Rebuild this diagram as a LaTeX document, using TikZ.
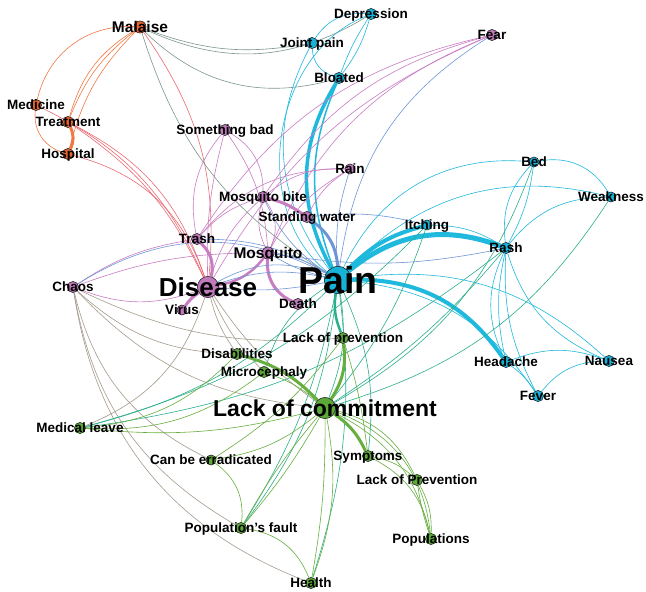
\documentclass[tikz,border=0pt]{standalone}
\usepackage{fontspec}
\setmainfont{Liberation Sans}
\definecolor{nOrg}{HTML}{E8642F}
\definecolor{nCyn}{HTML}{17B2D8}
\definecolor{nPur}{HTML}{C07ABC}
\definecolor{nGrn}{HTML}{5CA838}
\definecolor{cOrg}{HTML}{F07844}
\definecolor{cCyn}{HTML}{1EB9DC}
\definecolor{cPur}{HTML}{C87DC3}
\definecolor{cGrn}{HTML}{66AF3E}
\definecolor{cTeal}{HTML}{2AAF8C}
\definecolor{cBlu}{HTML}{6E96D7}
\definecolor{cSal}{HTML}{EB6973}
\definecolor{cGry}{HTML}{7D968C}
\definecolor{cTan}{HTML}{A59B8C}
\tikzset{
  vtx/.style={circle, draw=black!85, line width=0.45pt, inner sep=0pt, minimum size=#1},
  lab/.style={inner sep=0pt, anchor=base, yshift=-0.358*#1, font=\bfseries\fontsize{#1}{#1}\selectfont},
  lbl/.style={lab=13.5},
  lblm/.style={lab=15.5},
  ed/.style={line width=0.6pt},
  org/.style={ed, draw=cOrg},
  cyn/.style={ed, draw=cCyn},
  pur/.style={ed, draw=cPur},
  grn/.style={ed, draw=cGrn},
  tea/.style={ed, draw=cTeal},
  blu/.style={ed, draw=cBlu},
  sal/.style={ed, draw=cSal},
  gry/.style={ed, draw=cGry},
  tan/.style={ed, draw=cTan},
}
\begin{document}
\begin{tikzpicture}[x=1pt,y=1pt]
\useasboundingbox[fill=white] (0,0) rectangle (646,-592);
% vertices
\node[vtx=12, fill=nOrg] (malaise) at (140,-27) {};
\node[vtx=11, fill=nOrg] (medicine) at (36,-105) {};
\node[vtx=11, fill=nOrg] (treatment) at (68,-122) {};
\node[vtx=11, fill=nOrg] (hospital) at (68,-154) {};
\node[vtx=11, fill=nCyn] (jointpain) at (312,-43) {};
\node[vtx=11, fill=nCyn] (depression) at (371,-14) {};
\node[vtx=11, fill=nCyn] (bloated) at (339,-78) {};
\node[vtx=11, fill=nPur] (fear) at (492,-35) {};
\node[vtx=11, fill=nPur] (somethingbad) at (225,-130) {};
\node[vtx=10, fill=nPur] (rain) at (350,-169) {};
\node[vtx=11, fill=nPur] (mosquitobite) at (263,-197) {};
\node[vtx=11, fill=nPur] (standingwater) at (307,-217) {};
\node[vtx=11, fill=nPur] (trash) at (197,-239) {};
\node[vtx=12, fill=nPur] (mosquito) at (268,-253) {};
\node[vtx=21, fill=nPur] (disease) at (208,-287) {};
\node[vtx=11, fill=nPur] (chaos) at (73,-287) {};
\node[vtx=10, fill=nPur] (virus) at (182,-310) {};
\node[vtx=11, fill=nPur] (death) at (298,-304) {};
\node[vtx=27, fill=nCyn] (pain) at (338,-280) {};
\node[vtx=10, fill=nCyn] (itching) at (427,-225) {};
\node[vtx=10, fill=nCyn] (bed) at (534,-162) {};
\node[vtx=10, fill=nCyn] (weakness) at (611,-197) {};
\node[vtx=11, fill=nCyn] (rash) at (506,-248) {};
\node[vtx=11, fill=nCyn] (headache) at (506,-362) {};
\node[vtx=11, fill=nCyn] (nausea) at (609,-361) {};
\node[vtx=11, fill=nCyn] (fever) at (538,-396) {};
\node[vtx=11, fill=nGrn] (lackprev) at (343,-338) {};
\node[vtx=11, fill=nGrn] (disabilities) at (237,-354) {};
\node[vtx=11, fill=nGrn] (microcephaly) at (264,-372) {};
\node[vtx=21, fill=nGrn] (lackcommit) at (325,-408) {};
\node[vtx=11, fill=nGrn] (medicalleave) at (80,-428) {};
\node[vtx=10, fill=nGrn] (canbe) at (211,-460) {};
\node[vtx=11, fill=nGrn] (symptoms) at (368,-456) {};
\node[vtx=11, fill=nGrn] (lackPrevB) at (417,-480) {};
\node[vtx=11, fill=nGrn] (popfault) at (241,-528) {};
\node[vtx=11, fill=nGrn] (populations) at (431,-539) {};
\node[vtx=11, fill=nGrn] (health) at (311,-583) {};
% orange
\draw[org] (medicine) to[bend left=40] (malaise);
\draw[org] (treatment) to[bend left=15] (malaise);
\draw[org] (treatment) to[bend left=21] (malaise);
\draw[org] (hospital) to[bend left=15] (malaise);
\draw[org] (hospital) to[bend left=40] (medicine);
\draw[org, line width=3pt] (treatment) to[bend left=25] (hospital);
% salmon
\draw[sal] (malaise) to[bend left=20] (disease);
\draw[sal] (medicine) to[bend left=20] (disease);
\draw[sal] (treatment) to[bend left=15] (disease);
\draw[sal] (treatment) to[bend left=22] (disease);
\draw[sal] (hospital) to[bend left=28] (disease);
% grey
\draw[gry] (jointpain) to[bend left=15] (malaise);
\draw[gry] (depression) to[bend left=28] (malaise);
\draw[gry] (bloated) to[bend left=30] (malaise);
\draw[gry] (pain) to[bend left=20] (malaise);
% cyan top
\draw[cyn] (jointpain) to[bend left=30] (depression);
\draw[cyn] (bloated) to[bend left=35] (jointpain);
\draw[cyn] (depression) to[bend left=10] (bloated);
\draw[cyn] (depression) to[bend right=6] (bloated);
\draw[cyn] (pain) to[bend left=60] (depression);
\draw[cyn] (pain) to[bend left=33] (jointpain);
\draw[cyn, line width=3.5pt] (pain) to[bend left=30] (bloated);
\draw[cyn, line width=1.5pt] (pain) to[bend left=22] (bloated);
% fear
\draw[blu] (pain) to[bend left=25] (fear);
\draw[pur] (trash) to[bend left=22] (fear);
\draw[pur] (disease) to[bend left=18] (fear);
\draw[pur] (mosquito) to[bend left=22] (fear);
\draw[pur] (mosquitobite) to[bend left=20] (fear);
% rain
\draw[pur] (mosquitobite) to[bend left=20] (rain);
\draw[pur] (mosquito) to[bend left=15] (rain);
\draw[pur] (standingwater) to[bend left=15] (rain);
\draw[blu] (pain) to[bend left=10] (rain);
\draw[pur] (trash) to[bend left=25] (rain);
% something bad
\draw[pur] (trash) to[bend left=25] (somethingbad);
\draw[pur] (disease) to[bend left=8] (somethingbad);
\draw[pur] (somethingbad) to[bend left=30] (mosquitobite);
\draw[pur] (somethingbad) to[bend left=15] (mosquito);
% mosquito bite
\draw[pur, line width=3pt] (mosquitobite) to[bend left=10] (standingwater);
\draw[blu, line width=3pt] (standingwater) to[bend left=25] (pain);
\draw[pur] (trash) to[bend left=15] (mosquitobite);
\draw[pur] (disease) to[bend left=15] (mosquitobite);
\draw[pur] (mosquitobite) to[bend left=30] (mosquito);
\draw[pur] (mosquito) to[bend left=20] (mosquitobite);
\draw[blu] (pain) to[bend left=15] (mosquitobite);
% mosquito
\draw[pur, line width=2.5pt] (mosquito) to[bend left=20] (disease);
\draw[pur, line width=3pt] (death) to[bend left=35] (mosquito);
\draw[blu] (mosquito) to[bend left=12] (pain);
\draw[blu] (mosquito) to[bend right=8] (pain);
\draw[pur] (chaos) to[bend left=10] (mosquito);
\draw[blu] (rash) to[bend left=10] (mosquito);
\draw[blu] (standingwater) to[bend left=10] (itching);
% trash
\draw[pur, line width=3pt] (trash) to[bend left=30] (disease);
\draw[blu] (trash) to[bend left=15] (pain);
\draw[pur] (chaos) to[bend left=12] (trash);
\draw[blu] (chaos) to[bend left=30] (pain);
% disease
\draw[pur, line width=3pt] (virus) to[bend left=10] (disease);
\draw[pur] (disease) to[bend left=20] (chaos);
\draw[blu] (disease) to[bend left=15] (pain);
\draw[blu] (disease) to[bend left=25] (pain);
\draw[blu] (disease) to[bend right=8] (pain);
% tan
\draw[tan] (disabilities) to[bend left=10] (disease);
\draw[tan] (microcephaly) to[bend left=10] (disease);
\draw[tan] (lackcommit) to[bend left=10] (disease);
\draw[tan] (disease) to[bend left=25] (medicalleave);
\draw[tan] (disabilities) to[bend left=20] (chaos);
\draw[tan] (lackprev) to[bend left=15] (chaos);
\draw[tan] (lackcommit) to[bend left=20] (chaos);
\draw[tan] (canbe) to[bend left=25] (chaos);
\draw[tan] (popfault) to[bend left=25] (chaos);
\draw[tan] (health) to[bend left=30] (chaos);
% cyan right
\draw[cyn, line width=4pt] (pain) to[bend left=15] (itching);
\draw[cyn, line width=5pt] (pain) to[bend left=30] (rash);
\draw[cyn, line width=4pt] (pain) to[bend left=28] (headache);
\draw[cyn] (pain) to[bend left=35] (bed);
\draw[cyn] (pain) to[bend left=30] (weakness);
\draw[cyn] (pain) to[bend left=25] (nausea);
\draw[cyn] (pain) to[bend left=25] (fever);
\draw[cyn] (itching) to[bend left=15] (rash);
\draw[cyn] (rash) to[bend left=25] (bed);
\draw[cyn] (rash) to[bend right=10] (bed);
\draw[cyn] (bed) to[bend left=35] (weakness);
\draw[cyn] (rash) to[bend left=25] (weakness);
\draw[cyn] (headache) to[bend left=25] (rash);
\draw[cyn] (headache) to[bend left=12] (rash);
\draw[cyn] (fever) to[bend left=15] (rash);
\draw[cyn] (nausea) to[bend left=25] (rash);
\draw[cyn] (headache) to[bend left=20] (nausea);
\draw[cyn] (fever) to[bend left=25] (nausea);
\draw[cyn] (headache) to[bend left=10] (fever);
% teal
\draw[tea, line width=2.5pt] (lackprev) to[bend left=15] (pain);
\draw[tea] (pain) to[bend left=15] (lackcommit);
\draw[tea] (pain) to[bend left=15] (symptoms);
\draw[tea] (pain) to[bend left=15] (popfault);
\draw[tea] (pain) to[bend left=10] (popfault);
\draw[tea] (pain) to[bend left=12] (health);
\draw[tea] (microcephaly) to[bend left=20] (pain);
\draw[tea] (pain) to[bend left=15] (medicalleave);
\draw[tea] (itching) to[bend left=15] (medicalleave);
\draw[tea] (rash) to[bend left=15] (medicalleave);
\draw[tea] (bed) to[bend left=20] (lackcommit);
\draw[tea] (weakness) to[bend left=20] (lackcommit);
\draw[tea] (rash) to[bend left=8] (lackcommit);
\draw[tea] (itching) to[bend left=10] (lackcommit);
% green
\draw[grn, line width=3pt] (lackprev) to[bend left=20] (lackcommit);
\draw[grn, line width=3pt] (disabilities) to[bend left=15] (lackcommit);
\draw[grn] (microcephaly) to[bend left=10] (lackcommit);
\draw[grn, line width=3pt] (lackcommit) to[bend left=15] (symptoms);
\draw[grn] (lackcommit) to[bend left=25] (lackPrevB);
\draw[grn] (lackcommit) to[bend left=25] (populations);
\draw[grn] (lackcommit) to[bend left=32] (populations);
\draw[grn] (symptoms) to[bend left=15] (lackPrevB);
\draw[grn] (symptoms) to[bend left=25] (populations);
\draw[grn] (lackPrevB) to[bend left=15] (populations);
\draw[grn] (lackPrevB) to[bend right=5] (populations);
\draw[grn] (lackcommit) to[bend left=5] (popfault);
\draw[grn] (lackcommit) to[bend right=5] (popfault);
\draw[grn] (lackcommit) to[bend left=15] (health);
\draw[grn] (lackcommit) to[bend left=5] (health);
\draw[grn] (lackcommit) to[bend left=15] (canbe);
\draw[grn] (lackcommit) to[bend left=10] (medicalleave);
\draw[grn] (microcephaly) to[bend left=20] (medicalleave);
\draw[grn] (disabilities) to[bend left=20] (medicalleave);
\draw[grn] (canbe) to[bend left=30] (popfault);
\draw[grn] (popfault) to[bend left=30] (health);
\draw[grn] (lackprev) to[bend left=5] (symptoms);
\draw[grn] (lackprev) to[bend left=10] (canbe);
% vertices again, above the edges
\foreach \n/\c/\s in {malaise/nOrg/12, medicine/nOrg/11, treatment/nOrg/11, hospital/nOrg/11,
  jointpain/nCyn/11, depression/nCyn/11, bloated/nCyn/11, fear/nPur/11, somethingbad/nPur/11,
  rain/nPur/10, mosquitobite/nPur/11, standingwater/nPur/11, trash/nPur/11, mosquito/nPur/12,
  disease/nPur/21, chaos/nPur/11, virus/nPur/10, death/nPur/11, pain/nCyn/27, itching/nCyn/10,
  bed/nCyn/10, weakness/nCyn/10, rash/nCyn/11, headache/nCyn/11, nausea/nCyn/11, fever/nCyn/11,
  lackprev/nGrn/11, disabilities/nGrn/11, microcephaly/nGrn/11, lackcommit/nGrn/21,
  medicalleave/nGrn/11, canbe/nGrn/10, symptoms/nGrn/11, lackPrevB/nGrn/11, popfault/nGrn/11,
  populations/nGrn/11, health/nGrn/11}
  \node[vtx=\s, fill=\c] (\n-top) at (\n) {};
% labels
\node[lblm] (l-malaise) at (malaise) {Malaise};
\node[lbl] (l-medicine) at (medicine) {Medicine};
\node[lbl] (l-treatment) at (treatment) {Treatment};
\node[lbl] (l-hospital) at (hospital) {Hospital};
\node[lbl] (l-jointpain) at (jointpain) {Joint pain};
\node[lbl] (l-depression) at (depression) {Depression};
\node[lbl] (l-bloated) at (bloated) {Bloated};
\node[lbl] (l-fear) at (fear) {Fear};
\node[lbl] (l-somethingbad) at (somethingbad) {Something bad};
\node[lbl] (l-rain) at (rain) {Rain};
\node[lbl] (l-mosquitobite) at (mosquitobite) {Mosquito bite};
\node[lbl] (l-standingwater) at (standingwater) {Standing water};
\node[lbl] (l-trash) at (trash) {Trash};
\node[lblm] (l-mosquito) at (mosquito) {Mosquito};
\node[lab=26] (l-disease) at (disease) {Disease};
\node[lbl] (l-chaos) at (chaos) {Chaos};
\node[lbl] (l-virus) at (virus) {Virus};
\node[lbl] (l-death) at (death) {Death};
\node[lab=37.5] (l-pain) at (pain) {Pain};
\node[lbl] (l-itching) at (itching) {Itching};
\node[lbl] (l-bed) at (bed) {Bed};
\node[lbl] (l-weakness) at (weakness) {Weakness};
\node[lbl] (l-rash) at (rash) {Rash};
\node[lbl] (l-headache) at (headache) {Headache};
\node[lbl] (l-nausea) at (nausea) {Nausea};
\node[lbl] (l-fever) at (fever) {Fever};
\node[lbl] (l-lackprev) at (lackprev) {Lack of prevention};
\node[lbl] (l-disabilities) at (disabilities) {Disabilities};
\node[lbl] (l-microcephaly) at (microcephaly) {Microcephaly};
\node[lab=23] (l-lackcommit) at (lackcommit) {Lack of commitment};
\node[lbl] (l-medicalleave) at (medicalleave) {Medical leave};
\node[lbl] (l-canbe) at (canbe) {Can be erradicated};
\node[lbl] (l-symptoms) at (symptoms) {Symptoms};
\node[lbl] (l-lackPrevB) at (lackPrevB) {Lack of Prevention};
\node[lbl] (l-popfault) at (popfault) {Population's fault};
\node[lbl] (l-populations) at (populations) {Populations};
\node[lbl] (l-health) at (health) {Health};
\end{tikzpicture}
\end{document}
